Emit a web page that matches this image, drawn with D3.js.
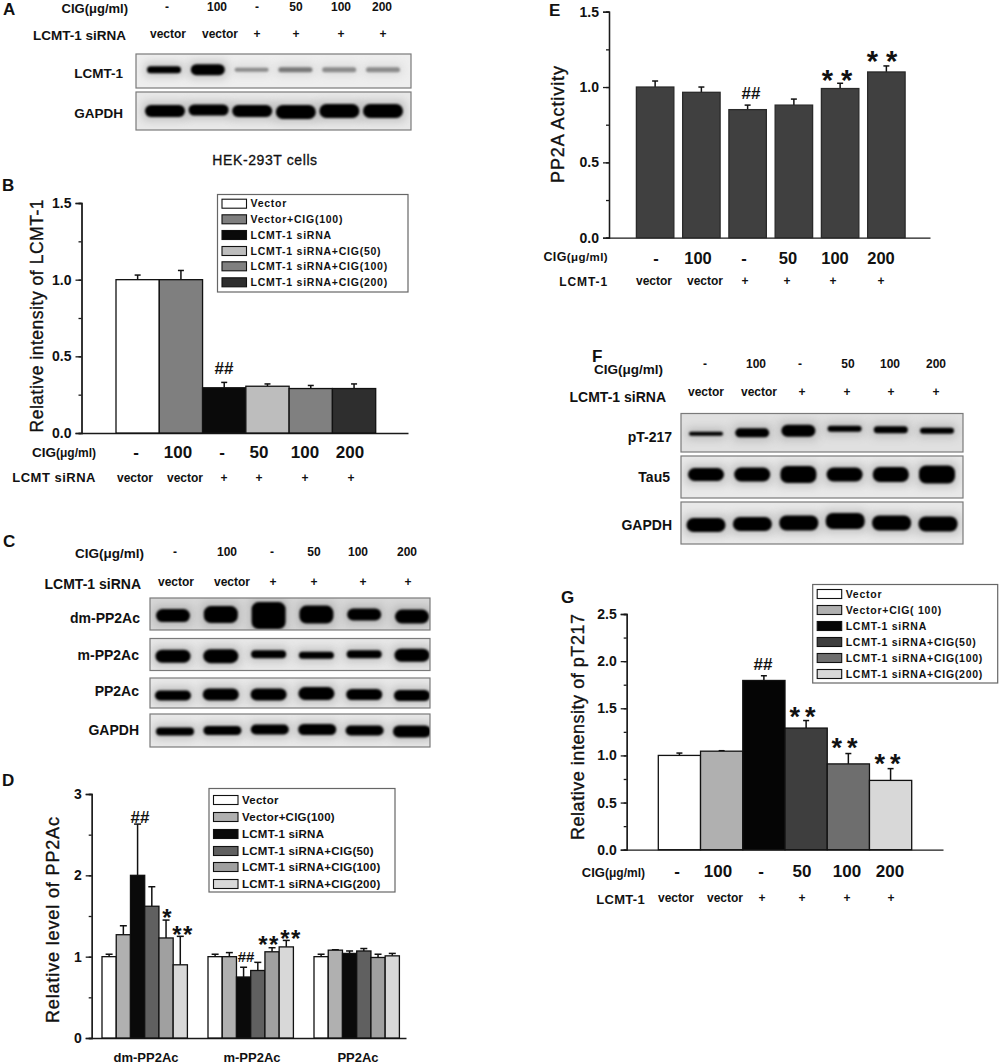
<!DOCTYPE html>
<html>
<head>
<meta charset="utf-8">
<script src="https://cdn.jsdelivr.net/npm/d3@7"></script>
<style>
  html, body { margin: 0; padding: 0; background: #fff; }
  svg { display: block; }
  text { font-family: "Liberation Sans", Arial, sans-serif; fill: #111; }
  .axis path, .axis line { stroke: #1a1a1a; stroke-width: 1.3px; }
  .axis text { font-weight: bold; fill: #111; }
</style>
</head>
<body>
<svg width="1000" height="1062"></svg>
<script>
// Lane labels
var cigDoses = ["-", "100", "-", "50", "100", "200"];
var sirnaRow = ["vector", "vector", "+", "+", "+", "+"];

// Legend names
var legendB = ["Vector", "Vector+CIG(100)", "LCMT-1 siRNA", "LCMT-1 siRNA+CIG(50)", "LCMT-1 siRNA+CIG(100)", "LCMT-1 siRNA+CIG(200)"];
var legendG = ["Vector", "Vector+CIG(  100)", "LCMT-1 siRNA", "LCMT-1 siRNA+CIG(50)", "LCMT-1 siRNA+CIG(100)", "LCMT-1 siRNA+CIG(200)"];

// Bar values
var valuesB = [1.0, 1.0, 0.295, 0.305, 0.29, 0.29];
var errorsB = [0.03, 0.06, 0.035, 0.015, 0.02, 0.03];
var valuesE = [1.0, 0.965, 0.85, 0.88, 0.99, 1.1];
var errorsE = [0.04, 0.035, 0.03, 0.04, 0.035, 0.04];
var valuesG = [1.0, 1.045, 1.795, 1.29, 0.91, 0.735];
var errorsG = [0.025, 0.005, 0.05, 0.08, 0.11, 0.125];

var groupsD = ["dm-PP2Ac", "m-PP2Ac", "PP2Ac"];
var dmValues = [1.0, 1.27, 2.0, 1.62, 1.23, 0.9];
var dmErrors = [0.03, 0.11, 0.63, 0.24, 0.22, 0.35];
var mValues = [1.0, 1.0, 0.75, 0.83, 1.06, 1.12];
var mErrors = [0.03, 0.05, 0.12, 0.1, 0.05, 0.08];
var pp2Values = [1.0, 1.08, 1.04, 1.07, 0.99, 1.01];
var pp2Errors = [0.03, 0.005, 0.03, 0.03, 0.04, 0.03];

// Blot band thickness per lane, and how dark each band is (0-1)
var bandLcmt = [7, 11, 4, 5, 5, 5];
var darkLcmt = [1, 1, 0.42, 0.5, 0.42, 0.42];
var bandGapdhA = [12, 11, 12, 14, 14, 14];
var bandDm = [13, 17, 27, 18, 12, 14];
var bandM = [13, 14, 8, 7, 8, 13];
var bandPp2 = [10, 12, 12, 13, 11, 11];
var bandGapdhC = [8, 9, 10, 11, 10, 12];
var bandPt = [4, 9, 12, 6, 7, 6];
var bandTau = [13, 14, 17, 14, 15, 18];
var bandGapdhF = [14, 14, 15, 16, 15, 15];

var colorsB = ["#ffffff", "#7f7f7f", "#0a0a0a", "#bdbdbd", "#808080", "#2e2e2e"];
var colorsD = ["#ffffff", "#b0b0b0", "#0a0a0a", "#606060", "#a0a0a0", "#d8d8d8"];
var colorsG = ["#ffffff", "#b0b0b0", "#050505", "#3e3e3e", "#6e6e6e", "#d8d8d8"];

var svg = d3.select("svg");
var defs = svg.append("defs");
defs.append("filter").attr("id", "soft").attr("x", "-20%").attr("y", "-60%").attr("width", "140%").attr("height", "220%")
  .append("feGaussianBlur").attr("stdDeviation", 1.1);
defs.append("filter").attr("id", "halo").attr("x", "-40%").attr("y", "-120%").attr("width", "180%").attr("height", "340%")
  .append("feGaussianBlur").attr("stdDeviation", 5);

function label(x, y, str, size, opt) {
  opt = opt || {};
  return svg.append("text")
    .attr("x", x).attr("y", y).attr("dy", opt.dy || "0.35em")
    .attr("text-anchor", opt.anchor || "middle")
    .attr("font-size", size)
    .attr("font-weight", opt.weight || "bold")
    .attr("letter-spacing", opt.spacing || 0)
    .text(str);
}

// rotated axis title, stroked a little because the figure's titles look heavier than regular
function yTitle(x, y, str, size, len) {
  svg.append("text")
    .attr("transform", "translate(" + x + "," + y + ") rotate(-90)")
    .attr("text-anchor", "middle").attr("dy", "0.35em")
    .attr("font-size", size)
    .attr("textLength", len).attr("lengthAdjust", "spacing")
    .style("stroke", "#111").style("stroke-width", 0.35)
    .text(str);
}

function cigLabel(x, y, size, small, spacing) {
  var t = label(x, y, "CIG", size, {anchor: "end", spacing: spacing || 0});
  t.append("tspan").attr("font-size", small).text("(μg/ml)");
}

function laneRow(names, xs, y, size) {
  names.forEach(function(d, i) { label(xs[i], y, d, size); });
}

function blot(box, bands, cfg) {
  var id = "clip" + box.x + "_" + box.y;
  defs.append("clipPath").attr("id", id).append("rect")
    .attr("x", box.x).attr("y", box.y).attr("width", box.w).attr("height", box.h);
  var x = d3.scalePoint().domain(d3.range(6)).range(cfg.lanes);
  var g = svg.append("g").attr("clip-path", "url(#" + id + ")");
  g.append("rect").attr("x", box.x).attr("y", box.y).attr("width", box.w).attr("height", box.h)
    .attr("fill", cfg.bg || "#e9e9e9");
  var dark = cfg.dark || bands.map(function() { return 1; });
  var shade = d3.scaleLinear().domain([0, 1]).range(["#e9e9e9", "#060606"]);
  // soft grey halo behind each band
  g.selectAll(".halo").data(bands).enter().append("rect")
    .attr("x", function(d, i) { return x(i) - cfg.width / 2 - 2; })
    .attr("y", function(d, i) { return box.y + box.h * cfg.mid + cfg.shift[i] - d / 2 - 3; })
    .attr("width", cfg.width + 4)
    .attr("height", function(d) { return d + 6; })
    .attr("fill", "#888").attr("opacity", function(d, i) { return 0.45 * dark[i]; })
    .attr("filter", "url(#halo)");
  g.selectAll(".band").data(bands).enter().append("rect")
    .attr("x", function(d, i) { return x(i) - cfg.width / 2; })
    .attr("y", function(d, i) { return box.y + box.h * cfg.mid + cfg.shift[i] - d / 2; })
    .attr("width", cfg.width)
    .attr("height", function(d) { return d; })
    .attr("rx", function(d) { return Math.min(d / 2, 7); })
    .attr("fill", function(d, i) { return shade(dark[i]); })
    .attr("filter", "url(#soft)");
  svg.append("rect").attr("x", box.x).attr("y", box.y).attr("width", box.w).attr("height", box.h)
    .attr("fill", "none").attr("stroke", "#7a7a7a").attr("stroke-width", 1.2);
}

function legend(names, colors, box, rows, size, spacing) {
  svg.append("rect").attr("x", box.x).attr("y", box.y).attr("width", box.w).attr("height", box.h)
    .attr("fill", "#fff").attr("stroke", "#666").attr("stroke-width", 1.2);
  names.forEach(function(d, i) {
    svg.append("rect").attr("x", box.x + 4.5).attr("y", rows[i] - 4.5).attr("width", 24.5).attr("height", 9)
      .attr("fill", colors[i]).attr("stroke", "#111").attr("stroke-width", 1.1);
    label(box.x + 33, rows[i], d, size, {anchor: "start", spacing: spacing});
  });
}

function yAxis(cfg) {
  var y = d3.scaleLinear().domain([0, cfg.max]).range([cfg.y0, cfg.y1]);
  var fmt = cfg.format;
  svg.append("g").attr("class", "axis").attr("transform", "translate(" + cfg.x + ",0)")
    .call(d3.axisLeft(y).tickValues(d3.range(0, cfg.max + 0.001, cfg.minor)).tickSize(3).tickFormat(""));
  svg.append("g").attr("class", "axis").attr("transform", "translate(" + cfg.x + ",0)")
    .call(d3.axisLeft(y).tickValues(d3.range(0, cfg.max + 0.001, cfg.major)).tickSize(6).tickPadding(4).tickFormat(d3.format(fmt)))
    .selectAll("text").attr("font-size", 14).attr("font-family", "Liberation Sans");
  var baseline = d3.scaleLinear().domain([0, 1]).range([cfg.x, cfg.xEnd]);
  svg.append("g").attr("class", "axis").attr("transform", "translate(0," + cfg.y0 + ")")
    .call(d3.axisBottom(baseline).tickValues([]).tickSize(0));
  return y;
}

function bars(x, y, values, errors, colors, cap, strokeCol) {
  var g = svg.append("g");
  var w = x.bandwidth();
  values.forEach(function(v, i) {
    var cx = x(i) + w / 2;
    g.append("line").attr("x1", cx).attr("x2", cx).attr("y1", y(v)).attr("y2", y(v + errors[i]))
      .attr("stroke", "#111").attr("stroke-width", 1.5);
    g.append("line").attr("x1", cx - cap / 2).attr("x2", cx + cap / 2).attr("y1", y(v + errors[i])).attr("y2", y(v + errors[i]))
      .attr("stroke", "#111").attr("stroke-width", 1.5);
    g.append("rect").attr("x", x(i)).attr("y", y(v)).attr("width", w).attr("height", y(0) - y(v))
      .attr("fill", colors[i]).attr("stroke", strokeCol || "#111").attr("stroke-width", 1.3);
  });
}

function stars(x, y, str, size, spacing) {
  label(x, y, str, size, {dy: "0.55em", spacing: spacing});
}

// ---- A ----
label(3, 9, "A", 17, {anchor: "start"});
cigLabel(128, 8, 13);
laneRow(cigDoses, [167, 217, 257, 296, 341, 382], 7, 12);
label(126, 35, "LCMT-1 siRNA", 13.5, {anchor: "end"});
laneRow(sirnaRow, [168, 220, 257, 296, 341, 383], 34, 12);
label(123, 73, "LCMT-1", 13.5, {anchor: "end"});
label(123, 113, "GAPDH", 13.5, {anchor: "end"});
blot({x: 136, y: 54, w: 275, h: 34}, bandLcmt, {lanes: [164, 383], width: 34, mid: 0.46, shift: [0, 0, 0, 0, 0, 0], dark: darkLcmt, bg: "#eeeeee"});
blot({x: 136, y: 92, w: 275, h: 38}, bandGapdhA, {lanes: [165, 383], width: 40, mid: 0.5, shift: [0, -1, 0, 1, 0, 0]});
label(265, 160, "HEK-293T cells", 14, {weight: "normal", spacing: 0.6}).style("stroke", "#111").style("stroke-width", 0.3);

// ---- B ----
label(2, 185, "B", 17, {anchor: "start"});
var yB = yAxis({x: 81.5, xEnd: 408, y0: 433, y1: 203, max: 1.5, major: 0.5, minor: 0.25, format: ".1f"});
var xB = d3.scaleBand().domain(d3.range(6)).range([116, 375.7]);
bars(xB, yB, valuesB, errorsB, colorsB, 6);
yTitle(37, 316, "Relative intensity of LCMT-1", 17.5, 233);
legend(legendB, colorsB, {x: 217.5, y: 194.5, w: 190.5, h: 97.5}, [203.7, 219.3, 235, 251, 266.3, 282.3], 10.5, 0.75);
label(224, 368, "##", 17);
cigLabel(96, 452.5, 13.5, 12);
laneRow(cigDoses, [136, 178, 222, 259, 305, 350], 452, 17);
label(96, 477, "LCMT siRNA", 13, {anchor: "end", spacing: 0.5});
laneRow(sirnaRow, [135, 185, 224, 259, 305, 351], 478, 12);

// ---- C ----
label(3, 541, "C", 17, {anchor: "start"});
cigLabel(144, 553, 13.5);
laneRow(cigDoses, [175, 227, 272, 314, 358, 407], 552, 12);
label(141, 584, "LCMT-1 siRNA", 14, {anchor: "end"});
laneRow(sirnaRow, [176, 232, 273, 314, 363, 408], 582, 12);
label(140, 618, "dm-PP2Ac", 14, {anchor: "end"});
label(139, 655, "m-PP2Ac", 14, {anchor: "end"});
label(139, 691, "PP2Ac", 14, {anchor: "end"});
label(139, 730, "GAPDH", 14, {anchor: "end"});
blot({x: 150, y: 598, w: 280, h: 32}, bandDm, {lanes: [173, 412], width: 34, mid: 0.55, shift: [0, -1, 0, -1, -1, 1], bg: "#d8d8d8"});
blot({x: 150, y: 638.5, w: 280, h: 32}, bandM, {lanes: [173, 412], width: 35, mid: 0.52, shift: [1, 1, -1, 0, -1, 0]});
blot({x: 150, y: 678, w: 280, h: 30}, bandPp2, {lanes: [173, 412], width: 36, mid: 0.55, shift: [1, 0, 0, -1, 0, 1]});
blot({x: 150, y: 714, w: 280, h: 33}, bandGapdhC, {lanes: [175, 412], width: 38, mid: 0.5, shift: [1, 0, -1, -1, 0, 1]});

// ---- D ----
label(2, 780, "D", 17, {anchor: "start"});
var yD = yAxis({x: 91.7, xEnd: 406, y0: 1038, y1: 794, max: 3, major: 1, minor: 0.5, format: "d"});
var xGroup = d3.scaleBand().domain(groupsD).range([102, 420]).paddingInner(0).paddingOuter(0);
[[dmValues, dmErrors], [mValues, mErrors], [pp2Values, pp2Errors]].forEach(function(s, i) {
  var left = xGroup(groupsD[i]);
  var xInner = d3.scaleBand().domain(d3.range(6)).range([left, left + 85.4]);
  bars(xInner, yD, s[0], s[1], colorsD, 7);
  label(left + 44, 1057, groupsD[i], 13);
});
yTitle(53, 920, "Relative level of PP2Ac", 18, 206);
legend(legendB, colorsD, {x: 209, y: 788.5, w: 186, h: 103.5}, [800, 817, 834, 851, 867, 884], 11.5, 0.25);
label(140, 817, "##", 17);
stars(167, 913, "*", 24);
stars(183, 930, "**", 24, 1.5);
label(246, 957, "##", 15);
stars(269, 940, "**", 24, 1.5);
stars(291, 934, "**", 24, 1.5);

// ---- E ----
label(549, 10, "E", 17, {anchor: "start"});
var yE = yAxis({x: 609, xEnd: 930, y0: 237.7, y1: 11.7, max: 1.5, major: 0.5, minor: 0.25, format: ".1f"});
var xE = d3.scaleBand().domain(d3.range(6)).range([632, 909.5]).paddingInner(0.19).paddingOuter(0.095);
bars(xE, yE, valuesE, errorsE, ["#404040", "#404040", "#404040", "#404040", "#404040", "#404040"], 6, "#2a2a2a");
yTitle(558, 124.5, "PP2A Activity", 18, 117);
cigLabel(608, 257, 12.5, 11.5, 0.4);
laneRow(cigDoses, [656, 698, 744, 788, 835, 881], 258, 16.5);
label(608, 282, "LCMT-1", 12, {anchor: "end", spacing: 0.9});
laneRow(sirnaRow, [654, 705, 745, 787, 833, 881], 281, 12);
label(751, 93, "##", 17);
stars(841, 74, "**", 29, 8);
stars(886, 55, "**", 29, 8);

// ---- F ----
label(592, 356, "F", 17, {anchor: "start"});
cigLabel(663, 369, 13.5);
laneRow(cigDoses, [705, 756, 800, 848, 890, 936], 364, 12);
label(666, 397, "LCMT-1 siRNA", 14, {anchor: "end"});
laneRow(sirnaRow, [706, 759, 802, 847, 891, 936], 392, 12);
label(672, 437, "pT-217", 14, {anchor: "end"});
label(670, 477, "Tau5", 14, {anchor: "end"});
label(672, 525, "GAPDH", 14, {anchor: "end"});
blot({x: 681, y: 413.5, w: 282, h: 38.5}, bandPt, {lanes: [706, 937], width: 34, mid: 0.45, shift: [3, 2, 0, -2, -1, 0], bg: "#e0e0e0"});
blot({x: 681, y: 456, w: 282, h: 42}, bandTau, {lanes: [706, 937], width: 36, mid: 0.44, shift: [0, 0, 0, 0, 0, 0]});
blot({x: 681, y: 502, w: 282, h: 42}, bandGapdhF, {lanes: [706, 938], width: 39, mid: 0.5, shift: [2, 1, 0, -2, 0, 1]});

// ---- G ----
label(561, 597, "G", 17, {anchor: "start"});
var yG = yAxis({x: 626.7, xEnd: 943, y0: 849.7, y1: 614, max: 2.5, major: 0.5, minor: 0.25, format: ".1f"});
var xG = d3.scaleBand().domain(d3.range(6)).range([658.3, 911.7]);
bars(xG, yG, valuesG, errorsG, colorsG, 6);
yTitle(578, 727, "Relative intensity of pT217", 18, 226);
legend(legendG, colorsG, {x: 812.7, y: 584.5, w: 185, h: 98.5}, [594, 610, 626, 642, 658, 674], 10.5, 0.75);
label(763, 664, "##", 17);
stars(805, 711, "**", 27, 5);
stars(847, 742, "**", 27, 5);
stars(890, 758, "**", 27, 5);
cigLabel(645, 872, 13, 12);
laneRow(cigDoses, [677, 718, 761, 802, 847, 890], 871, 17);
label(645, 899, "LCMT-1", 13, {anchor: "end", spacing: 0.3});
laneRow(sirnaRow, [676, 725, 762, 802, 847, 891], 898, 12);
</script>
</body>
</html>
